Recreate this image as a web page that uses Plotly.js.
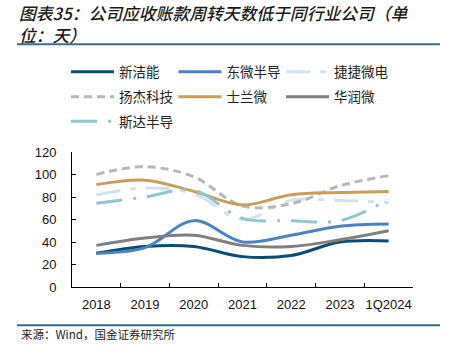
<!DOCTYPE html>
<html><head><meta charset="utf-8">
<script src="https://cdn.plot.ly/plotly-3.0.1.min.js"></script>
<style>html,body{margin:0;padding:0;background:#fff;}#chart{width:457px;height:353px;}</style>
</head><body><div id="chart"></div>
<script>
const categories = ["2018","2019","2020","2021","2022","2023","1Q2024"];
const seriesNames = ["新洁能","东微半导","捷捷微电","扬杰科技","士兰微","华润微","斯达半导"];
const xinjieneng = [30, 36, 36, 27, 28, 40, 41];
const dongwei = [30, 35, 59, 40, 46, 54, 56];
const jiejie = [82, 88, 83, 60, 77, 77, 75];
const yangjie = [100, 107, 98, 72, 74, 90, 99];
const shilan = [91, 95, 85, 73, 82, 84, 85];
const huarun = [37, 43.5, 46, 37, 36, 42, 50];
const sida = [74.5, 80, 86, 61, 59, 59, 78];
const yTicks = [0, 20, 40, 60, 80, 100, 120];

const values = [xinjieneng, dongwei, jiejie, yangjie, shilan, huarun, sida];
const colors = ["#0d4b70","#4a82c3","#d0e1f2","#b7b7b7","#c4a05c","#808080","#93c6cc"];
const dashes = ["solid","solid","24px,10px,6px,10px","8px,5px","solid","solid","26px,11px,3px,11px"];
const legendOf = ["legend","legend","legend","legend2","legend2","legend2","legend3"];

const traces = seriesNames.map((n,i)=>({
  x: categories, y: values[i], name: n, type: "scatter", mode: "lines",
  line: {color: colors[i], width: 3, dash: dashes[i], shape: "spline", smoothing: 1},
  legend: legendOf[i], hoverinfo: "skip"
}));

const legFont = {family: "Noto Sans CJK SC, sans-serif", size: 13.5, color: "#222"};
function leg(yPx){
  return {orientation: "h", xref: "container", yref: "container", x: 66/457, y: 1 - yPx/353,
    xanchor: "left", yanchor: "middle", font: legFont, itemwidth: 43, entrywidth: 49.5,
    entrywidthmode: "pixels", bgcolor: "rgba(0,0,0,0)", borderwidth: 0, itemclick: false, traceorder: "normal"};
}

const plotL = 72, plotR = 413, plotT = 152, plotB = 287.3;
const pw = plotR - plotL, ph = plotB - plotT;
const px2x = p => (p - plotL)/pw;
const py2y = p => (plotB - p)/ph;

const layout = {
  width: 457, height: 353,
  margin: {l: plotL, r: 457 - plotR, t: plotT, b: 353 - plotB, pad: 0},
  paper_bgcolor: "#fff", plot_bgcolor: "#fff",
  showlegend: true,
  xaxis: {type: "category", range: [-0.5, 6.5], showline: true, linecolor: "#000", linewidth: 1,
    ticks: "inside", tickson: "boundaries", ticklen: 4, tickcolor: "#000", showgrid: false, zeroline: false,
    tickangle: 0, ticklabelstandoff: 5,
    tickfont: {family: "Liberation Sans, Arial, sans-serif", size: 13, color: "#111"}, fixedrange: true},
  yaxis: {range: [0, 120], tickvals: yTicks, ticktext: yTicks.map(String), showline: true, linecolor: "#000", linewidth: 1,
    ticks: "inside", ticklen: 4, tickcolor: "#000", showgrid: false, zeroline: false, ticklabelstandoff: 12,
    tickfont: {family: "Liberation Sans, Arial, sans-serif", size: 13, color: "#111"}, fixedrange: true},
  legend: leg(72), legend2: leg(97), legend3: leg(121.5),
  shapes: [
    {type: "line", xref: "paper", yref: "paper", x0: px2x(17), x1: px2x(440), y0: py2y(44), y1: py2y(44),
      line: {color: "#3d6b8e", width: 2}},
    {type: "line", xref: "paper", yref: "paper", x0: px2x(17), x1: px2x(440), y0: py2y(325.7), y1: py2y(325.7),
      line: {color: "#3d6b8e", width: 2}}
  ],
  annotations: [
    {text: "<i>图表35：公司应收账款周转天数低于同行业公司（单<br>位：天）</i>", xref: "paper", yref: "paper",
      x: px2x(17), y: py2y(-1), xanchor: "left", yanchor: "top", align: "left", showarrow: false,
      font: {family: "Noto Sans CJK SC, sans-serif", size: 16.8, color: "#1a1a1a", weight: 500}},
    {text: "来源：Wind，国金证券研究所", xref: "paper", yref: "paper", x: px2x(19), y: py2y(334.5),
      xanchor: "left", yanchor: "middle", showarrow: false,
      font: {family: "Noto Sans CJK SC, sans-serif", size: 11.5, color: "#222"}}
  ]
};
Plotly.newPlot("chart", traces, layout, {displayModeBar: false, staticPlot: true});
</script></body></html>
